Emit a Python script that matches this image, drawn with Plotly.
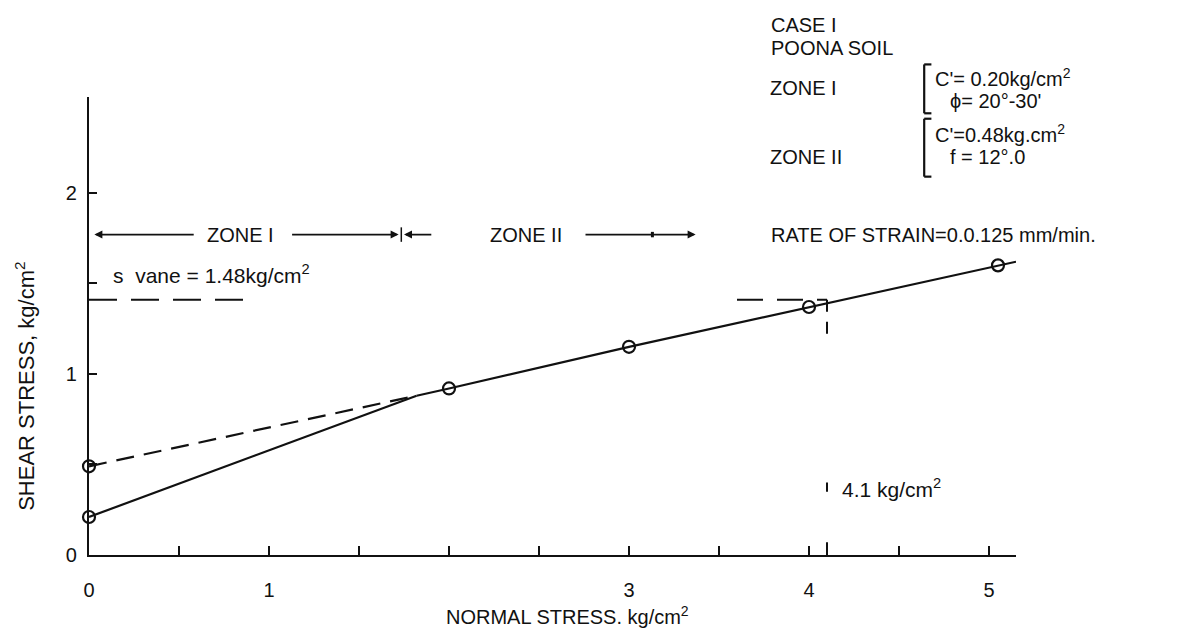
import plotly.graph_objects as go

# measured points (normal stress, shear stress), kg/cm2
zone1_x = [0, 1.82]
zone1_y = [0.21, 0.88]
zone2_x = [1.82, 2, 3, 4, 5.05, 5.15]
zone2_y = [0.88, 0.92, 1.15, 1.37, 1.60, 1.62]
dash_x = [0, 1.82]
dash_y = [0.49, 0.88]
pts_x = [0, 0, 2, 3, 4, 5.05]
pts_y = [0.21, 0.49, 0.92, 1.15, 1.37, 1.60]

x_ticks = [0, 0.5, 1, 1.5, 2, 2.5, 3, 3.5, 4, 4.5, 5]
x_labels = ["0", "", "1", "", "", "", "3", "", "4", "", "5"]
y_ticks = [0, 0.5, 1, 1.5, 2]
y_labels = ["0", "", "1", "", "2"]

s_vane = 1.41
sigma_v = 4.1

XMAX, YMAX = 5.15, 2.53
FONT = "Liberation Sans, Arial, sans-serif"
INK = "#111111"


def px(x):
    return x / XMAX


def py(y):
    return y / YMAX


fig = go.Figure()
fig.add_trace(go.Scatter(x=zone1_x, y=zone1_y, mode="lines",
                         line=dict(color=INK, width=2.2), showlegend=False))
fig.add_trace(go.Scatter(x=zone2_x, y=zone2_y, mode="lines",
                         line=dict(color=INK, width=2.2), showlegend=False))
fig.add_trace(go.Scatter(x=dash_x, y=dash_y, mode="lines",
                         line=dict(color=INK, width=2.2, dash="18px,10px"), showlegend=False))
fig.add_trace(go.Scatter(x=pts_x, y=pts_y, mode="markers", cliponaxis=False,
                         marker=dict(symbol="circle-open", size=12, color=INK,
                                     line=dict(width=2.2)), showlegend=False))

shapes = []


def seg(x0, y0, x1, y1, w=2, dash="solid"):
    shapes.append(dict(type="line", xref="paper", yref="paper",
                       x0=px(x0), y0=py(y0), x1=px(x1), y1=py(y1),
                       line=dict(color=INK, width=w, dash=dash)))


# vane strength lines
seg(0, s_vane, 0.87, s_vane, dash="28px,14px")
seg(3.6, s_vane, sigma_v, s_vane, dash="26px,14px")
seg(sigma_v, s_vane, sigma_v, 1.18, dash="12px,10px")
seg(sigma_v, 0.35, sigma_v, 0.40)
seg(sigma_v, 0, sigma_v, 0.07)

# zone arrows
seg(1.735, 1.73, 1.735, 1.81, w=1.5)
seg(3.13, 1.755, 3.13, 1.785, w=3)

# brackets for zone parameters
for top, bot in [(2.71, 2.44), (2.41, 2.09)]:
    seg(4.64, top, 4.64, bot, w=2.2)
    seg(4.64, top, 4.68, top, w=2.2)
    seg(4.64, bot, 4.68, bot, w=2.2)

annotations = []


def arrow(head, tail, y):
    annotations.append(dict(x=head, y=y, ax=tail, ay=y, xref="x", yref="y",
                            axref="x", ayref="y", text="", showarrow=True,
                            arrowhead=2, arrowsize=1, arrowwidth=1.6,
                            arrowcolor=INK))


arrow(0.03, 0.59, 1.77)
arrow(1.72, 1.12, 1.77)
arrow(1.75, 1.91, 1.77)
arrow(3.37, 2.75, 1.77)


def label(x, y, text, size=20, anchor="left", angle=0):
    annotations.append(dict(x=px(x), y=py(y), xref="paper", yref="paper", text=text,
                            showarrow=False, xanchor=anchor, yanchor="middle",
                            textangle=angle,
                            font=dict(family=FONT, size=size, color=INK)))


label(0.84, 1.77, "ZONE I", anchor="center")
label(2.43, 1.77, "ZONE II", anchor="center")
label(0.12, 1.55, "s  vane = 1.48kg/cm<sup>2</sup>", size=21)
label(4.17, 0.37, "4.1 kg/cm<sup>2</sup>", size=21)

label(3.78, 2.93, "CASE I")
label(3.78, 2.80, "POONA SOIL")
label(3.77, 2.58, "ZONE I")
label(4.69, 2.64, "C'= 0.20kg/cm<sup>2</sup>")
label(4.77, 2.51, "\u03d5= 20°-30'")
label(3.77, 2.20, "ZONE II")
label(4.69, 2.33, "C'=0.48kg.cm<sup>2</sup>")
label(4.77, 2.20, "f = 12°.0")
label(3.78, 1.77, "RATE OF STRAIN=0.0.125 mm/min.")

# axis titles
label(2.66, -0.335, "NORMAL STRESS. kg/cm<sup>2</sup>", size=20, anchor="center")
label(-0.36, 0.93, "SHEAR STRESS, kg/cm<sup>2</sup>", size=22, anchor="center", angle=-90)

fig.update_layout(
    width=1181, height=630,
    margin=dict(l=81, r=173, t=89, b=83),
    paper_bgcolor="white", plot_bgcolor="white",
    font=dict(family=FONT, size=20, color=INK),
    shapes=shapes, annotations=annotations,
    xaxis=dict(range=[0, XMAX], tickvals=x_ticks, ticktext=x_labels,
               ticks="inside", ticklen=9, tickwidth=1.6, tickcolor=INK,
               showline=True, linecolor=INK, linewidth=2.2, automargin=False,
               showgrid=False, zeroline=False, ticklabelstandoff=16),
    yaxis=dict(range=[0, YMAX], tickvals=y_ticks, ticktext=y_labels,
               ticks="inside", ticklen=8, tickwidth=1.6, tickcolor=INK,
               showline=True, linecolor=INK, linewidth=2.2, automargin=False,
               showgrid=False, zeroline=False, ticklabelstandoff=6),
)

fig.write_html("out.html")
